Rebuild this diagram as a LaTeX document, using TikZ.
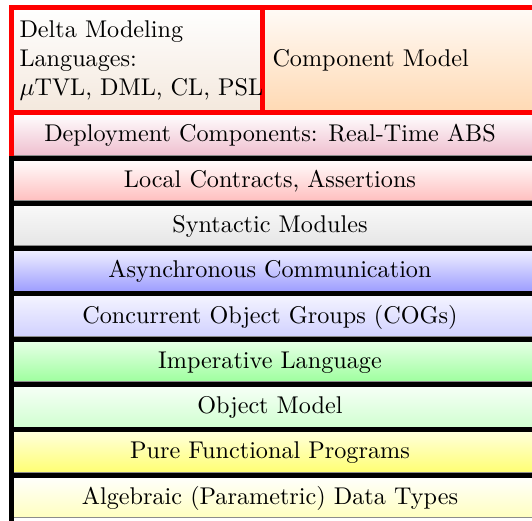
\documentclass[tikz,border=0pt]{standalone}
\begin{document}
\begin{tikzpicture}[x=0.4pt,y=-0.4pt,
  font=\fontsize{9.68}{11.65}\selectfont,
  layer/.style={draw=black!45, line width=0.4pt},
  frame/.style={line width=2pt, line cap=rect},
  redframe/.style={draw=red, line width=2pt},
  lbl/.style={inner sep=0pt, anchor=base}]
\useasboundingbox (0,0) rectangle (532,520);
\clip (0,0) rectangle (532,520);
% top row
\fill[top color=white, bottom color=brown!18] (11,7) rectangle (262.5,112.7);
\fill[top color=orange!3, bottom color=orange!30] (262.5,7) rectangle (545,112.7);
% layers
\path[layer, top color=white,    bottom color=purple!25] (11,112.7) rectangle (545,155.2);
\path[layer, top color=white,    bottom color=red!25]    (11,158.0) rectangle (545,200.5);
\path[layer, top color=black!2,  bottom color=black!10]  (11,203.3) rectangle (545,245.8);
\path[layer, top color=blue!5,   bottom color=blue!38]   (11,248.6) rectangle (545,291.1);
\path[layer, top color=blue!4,   bottom color=blue!18]   (11,293.9) rectangle (545,336.4);
\path[layer, top color=green!8,  bottom color=green!38]  (11,339.2) rectangle (545,381.7);
\path[layer, top color=green!3,  bottom color=green!18]  (11,384.5) rectangle (545,427.0);
\path[layer, top color=yellow!12,bottom color=yellow!55] (11,429.8) rectangle (545,472.3);
\path[layer, top color=white,    bottom color=yellow!25] (11,475.1) rectangle (545,517.6);
% black borders
\draw[frame] (11,158.0) -- (11,530);
\foreach \yy in {158.0,203.3,248.6,293.9,339.2,384.5,429.8,475.1}
  \draw[frame] (11,\yy) -- (545,\yy);
% red borders
\draw[redframe] (11,7) rectangle (545,112.7);
\draw[redframe] (262.5,7) -- (262.5,112.7);
\draw[redframe] (11,112.7) -- (11,155.5);
% texts
\node[inner sep=0pt, anchor=north west, align=left] (delta) at (19,19.9)
  {Delta Modeling\\Languages:\\$\mu$TVL, DML, CL, PSL};
\node[inner sep=0pt, anchor=base west] (comp) at (272,66.5) {Component Model};
\node[lbl] (deploy) at (270,141.85) {Deployment Components: Real-Time ABS};
\node[lbl] (local)  at (270,187.15) {Local Contracts, Assertions};
\node[lbl] (syn)    at (270,232.45) {Syntactic Modules};
\node[lbl] (async)  at (270,277.75) {Asynchronous Communication};
\node[lbl] (cogs)   at (270,323.05) {Concurrent Object Groups (COGs)};
\node[lbl] (imp)    at (270,368.35) {Imperative Language};
\node[lbl] (obj)    at (270,413.65) {Object Model};
\node[lbl] (pure)   at (270,458.95) {Pure Functional Programs};
\node[lbl] (alg)    at (270,504.25) {Algebraic (Parametric) Data Types};
\end{tikzpicture}
\end{document}
